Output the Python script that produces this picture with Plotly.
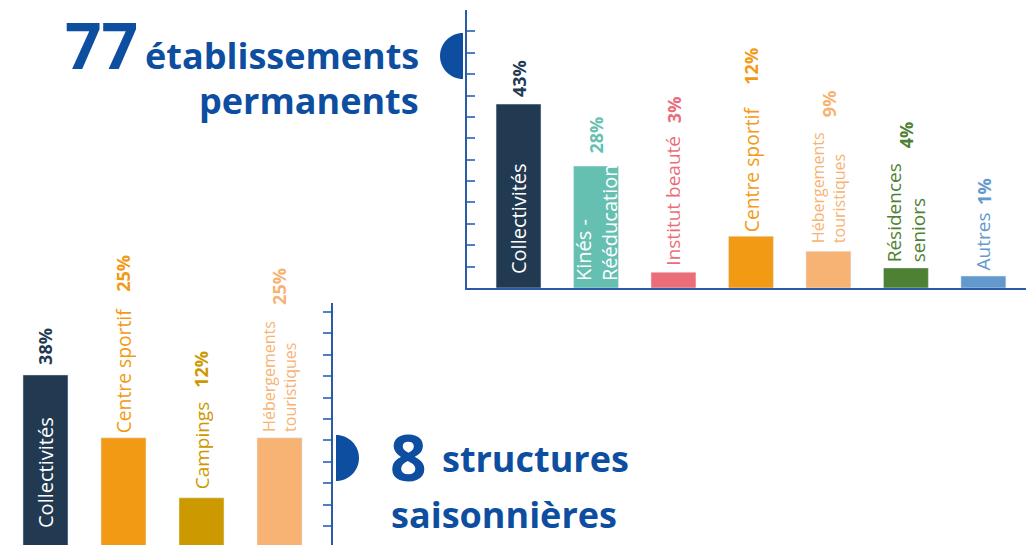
import plotly.graph_objects as go

# ---------------- data ----------------
top_categories = ["Collectivités", "Kinés -<br>Rééducation", "Institut beauté", "Centre sportif",
                  "Hébergements<br>touristiques", "Résidences<br>seniors", "Autres"]
top_values = [43, 28.5, 3.7, 12.1, 8.6, 4.7, 2.8]
top_pct_labels = ["43%", "28%", "3%", "12%", "9%", "4%", "1%"]

bottom_categories = ["Collectivités", "Centre sportif", "Campings", "Hébergements<br>touristiques"]
bottom_values = [40.3, 25.6, 11.6, 25.6]
bottom_pct_labels = ["38%", "25%", "12%", "25%"]

top_count = "77"
top_title = ["établissements", "permanents"]
bottom_count = "8"
bottom_title = ["structures", "saisonnières"]

# ---------------- styles ----------------
W, H = 1026, 545
BLUE = "#0E4EA0"
AXIS = "#2A5BA8"
TICK = "#4F7FC4"
FONT = "Open Sans"
BOTTOM_BASE = 0.58   # value shown at the bottom edge of the lower chart

top_colors = ["#213A52", "#66C0B1", "#EB6D79", "#F39A14", "#F6B374", "#4F8135", "#6399CC"]
top_label_colors = ["white", "white", "#EB6D79", "#F39A14", "#F6B374", "#4F8135", "#6399CC"]
top_pct_colors = ["#213A52", "#66C0B1", "#EB6D79", "#F39A14", "#F6B374", "#4F8135", "#6399CC"]
top_label_inside = [True, True, False, False, False, False, False]
top_label_shift = [12, 5, 5, 2, 6, 4, 4]          # px
top_pct_shift = [5, 10, 147, 150, 132, 118, 69]    # px above bar top
top_label_size = [20, 20, 19, 19.3, 16, 19, 19]

bottom_colors = ["#213A52", "#F39A14", "#CC9900", "#F6B374"]
bottom_label_colors = ["white", "#F39A14", "#CC9900", "#F6B374"]
bottom_pct_colors = ["#213A52", "#F39A14", "#CC9900", "#F6B374"]
bottom_label_inside = [True, False, False, False]
bottom_label_shift = [15, 3, 6, 4]
bottom_pct_shift = [8, 144, 108, 131]
bottom_label_size = [20, 19.3, 19, 16]
PCT_SIZE = 18


def px_x(p):
    return p / W


def px_y(p):
    return 1 - p / H


fig = go.Figure()
fig.add_trace(go.Bar(x=top_categories, y=top_values, marker_color=top_colors,
                     width=0.58, xaxis="x", yaxis="y", hoverinfo="skip"))
fig.add_trace(go.Bar(x=bottom_categories, y=bottom_values, marker_color=bottom_colors,
                     width=0.577, xaxis="x2", yaxis="y2", hoverinfo="skip"))

annotations = []


def add_labels(cats, vals, pcts, lcols, pcols, inside, lshift, pshift, lsize, xr, yr, base):
    for i, c in enumerate(cats):
        annotations.append(dict(
            x=c, y=base if inside[i] else vals[i], xref=xr, yref=yr,
            text=c, textangle=-90, showarrow=False, xanchor="center", yanchor="bottom",
            yshift=lshift[i], align="left",
            font=dict(family=FONT, size=lsize[i], color=lcols[i])))
        annotations.append(dict(
            x=c, y=vals[i], xref=xr, yref=yr,
            text="<b>" + pcts[i] + "</b>", textangle=-90, showarrow=False,
            xanchor="center", yanchor="bottom", yshift=pshift[i],
            font=dict(family=FONT, size=PCT_SIZE, color=pcols[i])))


add_labels(top_categories, top_values, top_pct_labels, top_label_colors, top_pct_colors,
           top_label_inside, top_label_shift, top_pct_shift, top_label_size, "x", "y", 0)
add_labels(bottom_categories, bottom_values, bottom_pct_labels, bottom_label_colors,
           bottom_pct_colors, bottom_label_inside, bottom_label_shift, bottom_pct_shift,
           bottom_label_size, "x2", "y2", BOTTOM_BASE)

# headlines
annotations += [
    dict(x=px_x(63), y=px_y(45), xref="paper", yref="paper", text="<b>" + top_count + "</b>",
         showarrow=False, xanchor="left", yanchor="middle",
         font=dict(family=FONT, size=64, color=BLUE)),
    dict(x=px_x(421), y=px_y(55), xref="paper", yref="paper", text="<b>" + top_title[0] + "</b>",
         showarrow=False, xanchor="right", yanchor="middle",
         font=dict(family=FONT, size=36, color=BLUE)),
    dict(x=px_x(421), y=px_y(101), xref="paper", yref="paper", text="<b>" + top_title[1] + "</b>",
         showarrow=False, xanchor="right", yanchor="middle",
         font=dict(family=FONT, size=36, color=BLUE)),
    dict(x=px_x(388), y=px_y(456), xref="paper", yref="paper", text="<b>" + bottom_count + "</b>",
         showarrow=False, xanchor="left", yanchor="middle",
         font=dict(family=FONT, size=64, color=BLUE)),
    dict(x=px_x(440), y=px_y(458), xref="paper", yref="paper", text="<b>" + bottom_title[0] + "</b>",
         showarrow=False, xanchor="left", yanchor="middle",
         font=dict(family=FONT, size=36, color=BLUE)),
    dict(x=px_x(389), y=px_y(514), xref="paper", yref="paper", text="<b>" + bottom_title[1] + "</b>",
         showarrow=False, xanchor="left", yanchor="middle",
         font=dict(family=FONT, size=36, color=BLUE)),
]

r = 23
k = 0.5523 * r
left_half = (f"M 0,{r} C {-k},{r} {-r},{k} {-r},0 C {-r},{-k} {-k},{-r} 0,{-r} Z")
right_half = (f"M 0,{r} C {k},{r} {r},{k} {r},0 C {r},{-k} {k},{-r} 0,{-r} Z")
shapes = [
    dict(type="path", xref="paper", yref="paper", xsizemode="pixel", ysizemode="pixel",
         xanchor=px_x(463), yanchor=px_y(56), path=left_half, fillcolor=BLUE, line_width=0),
    dict(type="path", xref="paper", yref="paper", xsizemode="pixel", ysizemode="pixel",
         xanchor=px_x(336), yanchor=px_y(458), path=right_half, fillcolor=BLUE, line_width=0),
]

fig.update_layout(
    width=W, height=H, margin=dict(l=0, r=0, t=0, b=0),
    paper_bgcolor="white", plot_bgcolor="rgba(0,0,0,0)", showlegend=False,
    annotations=annotations, shapes=shapes,
    xaxis=dict(domain=[px_x(467), 1], range=[-0.665, 6.55], showticklabels=False,
               showline=True, linecolor=AXIS, linewidth=2, ticks="", showgrid=False,
               zeroline=False, anchor="y", fixedrange=True),
    yaxis=dict(domain=[px_y(288), px_y(10)], range=[0, 65], showticklabels=False,
               showline=True, linecolor=AXIS, linewidth=2, ticks="inside", ticklen=8,
               tickcolor=TICK, tickwidth=1.5, tickvals=list(range(5, 65, 5)),
               showgrid=False, zeroline=False, anchor="x"),
    xaxis2=dict(domain=[0, px_x(331)], range=[-0.583, 3.66], showticklabels=False,
                showline=True, linecolor="#A9C3E6", linewidth=2, ticks="", showgrid=False,
                zeroline=False, anchor="y2"),
    yaxis2=dict(domain=[0, px_y(303)], range=[BOTTOM_BASE, 57.1], showticklabels=False,
                side="right", showline=True, linecolor=AXIS, linewidth=2, ticks="inside",
                ticklen=8, tickcolor=TICK, tickwidth=1.5, tickvals=list(range(5, 60, 5)),
                showgrid=False, zeroline=False, anchor="x2"),
)

fig.write_html("out.html", config={"displayModeBar": False},
               post_script="document.body.style.margin='0px';")
